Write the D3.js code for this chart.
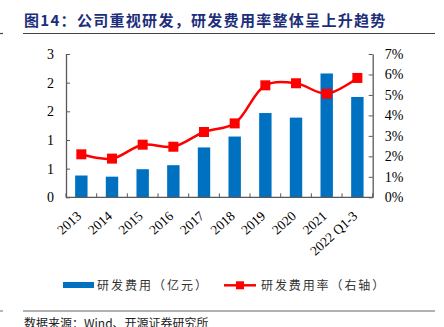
<!DOCTYPE html>
<html><head><meta charset="utf-8">
<script src="https://cdn.jsdelivr.net/npm/d3@7"></script>
<style>body{margin:0;background:#fff}svg{display:block}</style>
</head><body>
<script>
const categories = ["2013","2014","2015","2016","2017","2018","2019","2020","2021","2022 Q1-3"];
const rdExpense = [0.38,0.36,0.49,0.56,0.87,1.06,1.47,1.39,2.16,1.75]; // 亿元
const rdRate = [2.10,1.89,2.57,2.47,3.19,3.61,5.47,5.57,5.06,5.83]; // %
const leftTicks = [0,0.5,1,1.5,2,2.5];
const leftTickLabels = ["0","1","1","2","2","3"];
const rightTicks = [0,1,2,3,4,5,6,7];
const rightTickLabels = ["0%","1%","2%","3%","4%","5%","6%","7%"];
const titleText = "图14：公司重视研发，研发费用率整体呈上升趋势";
const legendLabels = ["研发费用（亿元）","研发费用率（右轴）"];
const sourceText = "数据来源：Wind、开源证券研究所";

const W=444,H=327;
const svg=d3.select("body").append("svg").attr("width",W).attr("height",H);
const x0=66,x1=372.7,yTop=54,yBot=197.3;
const xb=d3.scaleBand().domain(categories).range([x0,x1]);
const yL=d3.scaleLinear().domain([0,2.5]).range([yBot,yTop]);
const yR=d3.scaleLinear().domain([0,7]).range([yBot,yTop]);
const axisColor="#595959";
const serif="'Liberation Serif','Times New Roman',serif";
const cjk="'Noto Sans CJK SC','Noto Sans',sans-serif";

// title
svg.append("text").attr("x",24).attr("y",26).text(titleText)
  .attr("font-family",cjk).attr("font-weight","bold").attr("font-size",15)
  .attr("fill","#1c2e7a").attr("letter-spacing",1.3);
svg.append("line").attr("x1",23).attr("x2",435).attr("y1",33.5).attr("y2",33.5).attr("stroke","#444").attr("stroke-width",1.2);
svg.append("line").attr("x1",0).attr("x2",3).attr("y1",33.5).attr("y2",33.5).attr("stroke","#444").attr("stroke-width",1.2);

// bars
svg.append("g").selectAll("rect").data(rdExpense).join("rect")
  .attr("x",(d,i)=>xb(categories[i])+xb.bandwidth()/2-6.2)
  .attr("width",12.4)
  .attr("y",d=>yL(d)).attr("height",d=>yBot-yL(d))
  .attr("fill","#0070C0");

// left axis
const gL=svg.append("g").attr("transform",`translate(${x0},0)`)
  .call(d3.axisLeft(yL).tickValues(leftTicks).tickSize(-4).tickSizeOuter(0).tickPadding(12)
    .tickFormat((d,i)=>leftTickLabels[i]));
// right axis
const gR=svg.append("g").attr("transform",`translate(${x1},0)`)
  .call(d3.axisRight(yR).tickValues(rightTicks).tickSize(-4).tickSizeOuter(0).tickPadding(12)
    .tickFormat((d,i)=>rightTickLabels[i]));
// x axis
const bounds=categories.map(c=>xb(c)).concat([x1]);
const gX=svg.append("g").attr("transform",`translate(0,${yBot})`);
gX.append("line").attr("x1",x0).attr("x2",x1).attr("stroke",axisColor).attr("stroke-width",1.3);
gX.selectAll(".tk").data(bounds).join("line").attr("class","tk")
  .attr("x1",d=>d).attr("x2",d=>d).attr("y1",0).attr("y2",-4).attr("stroke",axisColor);
gX.selectAll("text").data(categories).join("text")
  .attr("transform",d=>`translate(${xb(d)+xb.bandwidth()/2+1},${20}) rotate(-42)`)
  .attr("text-anchor","end")
  .attr("font-family",serif).attr("font-size",13.5).attr("fill","#000").text(d=>d);

[gL,gR].forEach(g=>{
  g.select(".domain").attr("stroke",axisColor).attr("stroke-width",1.3);
  g.selectAll(".tick line").attr("stroke",axisColor);
  g.selectAll(".tick text").attr("font-family",serif).attr("font-size",14).attr("fill","#000");
});

// line
const line=d3.line().x((d,i)=>xb(categories[i])+xb.bandwidth()/2).y(d=>yR(d)).curve(d3.curveCatmullRom.alpha(0.5));
svg.append("path").datum(rdRate).attr("d",line).attr("fill","none").attr("stroke","#FF0000").attr("stroke-width",2.5);
svg.append("g").selectAll("rect").data(rdRate).join("rect")
  .attr("x",(d,i)=>xb(categories[i])+xb.bandwidth()/2-5).attr("y",d=>yR(d)-5)
  .attr("width",10).attr("height",10).attr("fill","#FF0000");

// legend
const lg=svg.append("g");
lg.append("rect").attr("x",63).attr("y",282).attr("width",31).attr("height",6).attr("fill","#0070C0");
lg.append("text").attr("x",97).attr("y",289.5).text(legendLabels[0]).attr("font-family",cjk).attr("font-size",12)
  .attr("fill","#333").attr("letter-spacing",2);
lg.append("line").attr("x1",224).attr("x2",256).attr("y1",285.3).attr("y2",285.3).attr("stroke","#FF0000").attr("stroke-width",2.5);
lg.append("rect").attr("x",236).attr("y",281.3).attr("width",8).attr("height",8).attr("fill","#FF0000");
lg.append("text").attr("x",261).attr("y",289.5).text(legendLabels[1]).attr("font-family",cjk).attr("font-size",12)
  .attr("fill","#333").attr("letter-spacing",1.9);

// source
svg.append("line").attr("x1",23).attr("x2",435).attr("y1",311).attr("y2",311).attr("stroke","#999").attr("stroke-width",1.4);
svg.append("line").attr("x1",0).attr("x2",3).attr("y1",311).attr("y2",311).attr("stroke","#999").attr("stroke-width",1.4);
svg.append("text").attr("x",24).attr("y",328).text(sourceText).attr("font-family",cjk).attr("font-size",12).attr("fill","#222");
</script>
</body></html>
